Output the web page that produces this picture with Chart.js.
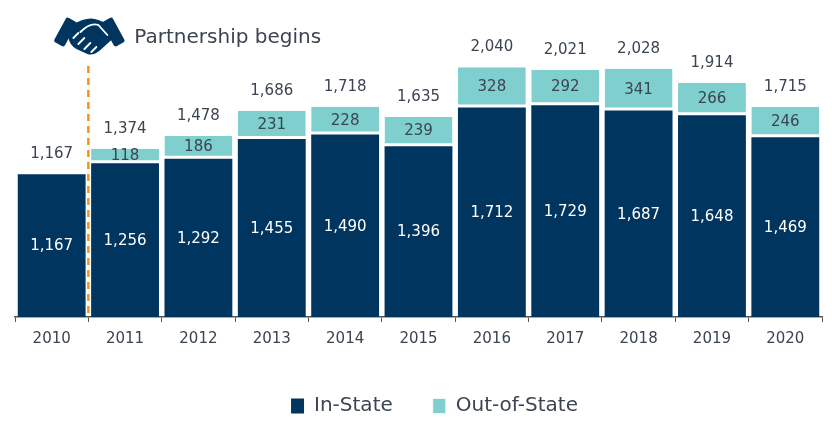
<!DOCTYPE html>
<html>
<head>
<meta charset="utf-8">
<script src="https://cdn.jsdelivr.net/npm/chart.js@4.4.0/dist/chart.umd.min.js"></script>
<style>
  html, body { margin: 0; padding: 0; background: #fff; }
  #wrap { width: 832px; height: 442px; }
</style>
</head>
<body>
<div id="wrap"><canvas id="myChart"></canvas></div>
<script>
const years = ['2010', '2011', '2012', '2013', '2014', '2015', '2016', '2017', '2018', '2019', '2020'];
const inState = [1167, 1256, 1292, 1455, 1490, 1396, 1712, 1729, 1687, 1648, 1469];
const outState = [null, 118, 186, 231, 228, 239, 328, 292, 341, 266, 246];

const navy = '#00355f';
const teal = '#7ecfce';
const textCol = '#3b4451';
const fontFam = '"DejaVu Sans", Verdana, sans-serif';

function fmt(v) {
    return v.toLocaleString('en-US');
}

// handshake icon, about 61px wide, centred on (cx, cy)
function drawHandshake(c, cx, cy) {
    c.save();
    c.translate(cx, cy);
    c.fillStyle = navy;

    // cuffs
    c.save();
    c.translate(-24, -3);
    c.rotate(0.5);
    c.beginPath();
    c.roundRect(-6, -14, 12, 28, 2.5);
    c.fill();
    c.restore();
    c.save();
    c.translate(24, -3);
    c.rotate(-0.5);
    c.beginPath();
    c.roundRect(-6, -14, 12, 28, 2.5);
    c.fill();
    c.restore();

    // hands
    c.beginPath();
    c.moveTo(-19, -10);
    c.lineTo(-7, -15);
    c.quadraticCurveTo(2, -18, 9, -15);
    c.lineTo(19, -11);
    c.lineTo(22, 5);
    c.lineTo(11, 15);
    c.quadraticCurveTo(4, 21, -2, 19);
    c.lineTo(-13, 14);
    c.quadraticCurveTo(-20, 10, -21, 2);
    c.closePath();
    c.fill();

    // thumb + finger gaps
    c.strokeStyle = '#fff';
    c.lineWidth = 1.8;
    c.lineCap = 'round';
    c.beginPath();
    c.moveTo(-9, -3);
    c.quadraticCurveTo(1, -13, 9, -10);
    c.lineTo(18, 0);
    c.stroke();
    c.beginPath();
    c.moveTo(-16, 3); c.lineTo(-11, -2);
    c.moveTo(-11, 9); c.lineTo(-5, 3);
    c.moveTo(-5, 14); c.lineTo(1, 8);
    c.moveTo(2, 17); c.lineTo(7, 12);
    c.stroke();
    c.restore();
}

const labelPlugin = {
    id: 'labels',
    afterLayout(chart) {
        // legend sits a bit right of centre in the original
        chart.legend.left += 16;
        chart.legend.right += 16;
    },
    afterDatasetsDraw(chart) {
        const c = chart.ctx;
        const inMeta = chart.getDatasetMeta(0);
        const outMeta = chart.getDatasetMeta(1);
        c.save();
        c.font = '15px ' + fontFam;
        c.textAlign = 'center';
        c.textBaseline = 'middle';
        years.forEach((y, i) => {
            const a = inMeta.data[i];
            c.fillStyle = '#fff';
            c.fillText(fmt(inState[i]), a.x, (a.y + a.base) / 2 + 1);
            let top = a.y;
            if (outState[i] != null) {
                const b = outMeta.data[i];
                c.fillStyle = textCol;
                c.fillText(fmt(outState[i]), b.x, (b.y + b.base) / 2);
                top = b.y;
            }
            const total = inState[i] + (outState[i] || 0);
            c.fillStyle = textCol;
            c.fillText(fmt(total), a.x, top - 20);
        });

        // partnership marker
        const xs = chart.scales.x;
        const ys = chart.scales.y;
        const lx = (xs.getPixelForValue(0) + xs.getPixelForValue(1)) / 2;
        c.strokeStyle = '#f0941e';
        c.lineWidth = 2.5;
        c.setLineDash([7, 5]);
        c.beginPath();
        c.moveTo(lx, ys.getPixelForValue(2050));
        c.lineTo(lx, ys.getPixelForValue(0));
        c.stroke();
        c.setLineDash([]);

        drawHandshake(c, lx + 1, 35);
        c.font = '20px ' + fontFam;
        c.textAlign = 'left';
        c.fillStyle = textCol;
        c.fillText('Partnership begins', lx + 46, 38);
        c.restore();
    }
};

const ctx = document.getElementById('myChart');

new Chart(ctx, {
    type: 'bar',
    data: {
        labels: years,
        datasets: [{
            label: 'In-State',
            data: inState,
            backgroundColor: navy,
            barPercentage: 0.925,
            categoryPercentage: 1
        }, {
            label: 'Out-of-State',
            data: outState,
            backgroundColor: teal,
            borderColor: '#fff',
            borderWidth: { top: 0, left: 0, right: 0, bottom: 3 },
            borderSkipped: false,
            barPercentage: 0.925,
            categoryPercentage: 1
        }]
    },
    options: {
        responsive: true,
        maintainAspectRatio: false,
        animation: false,
        layout: {
            padding: { top: 11, left: 15, right: 10, bottom: 16 }
        },
        scales: {
            x: {
                stacked: true,
                grid: {
                    display: true,
                    drawOnChartArea: false,
                    drawTicks: true,
                    tickLength: 5,
                    color: '#555'
                },
                border: { color: '#555', width: 1.5 },
                ticks: {
                    color: textCol,
                    font: { family: fontFam, size: 15 },
                    padding: 8
                }
            },
            y: {
                stacked: true,
                display: false,
                min: 0,
                max: 2500
            }
        },
        plugins: {
            legend: {
                position: 'bottom',
                labels: {
                    boxWidth: 13,
                    boxHeight: 15,
                    color: textCol,
                    font: { family: fontFam, size: 20 },
                    padding: 40
                }
            },
            tooltip: { enabled: false }
        }
    },
    plugins: [labelPlugin]
});
</script>
</body>
</html>
